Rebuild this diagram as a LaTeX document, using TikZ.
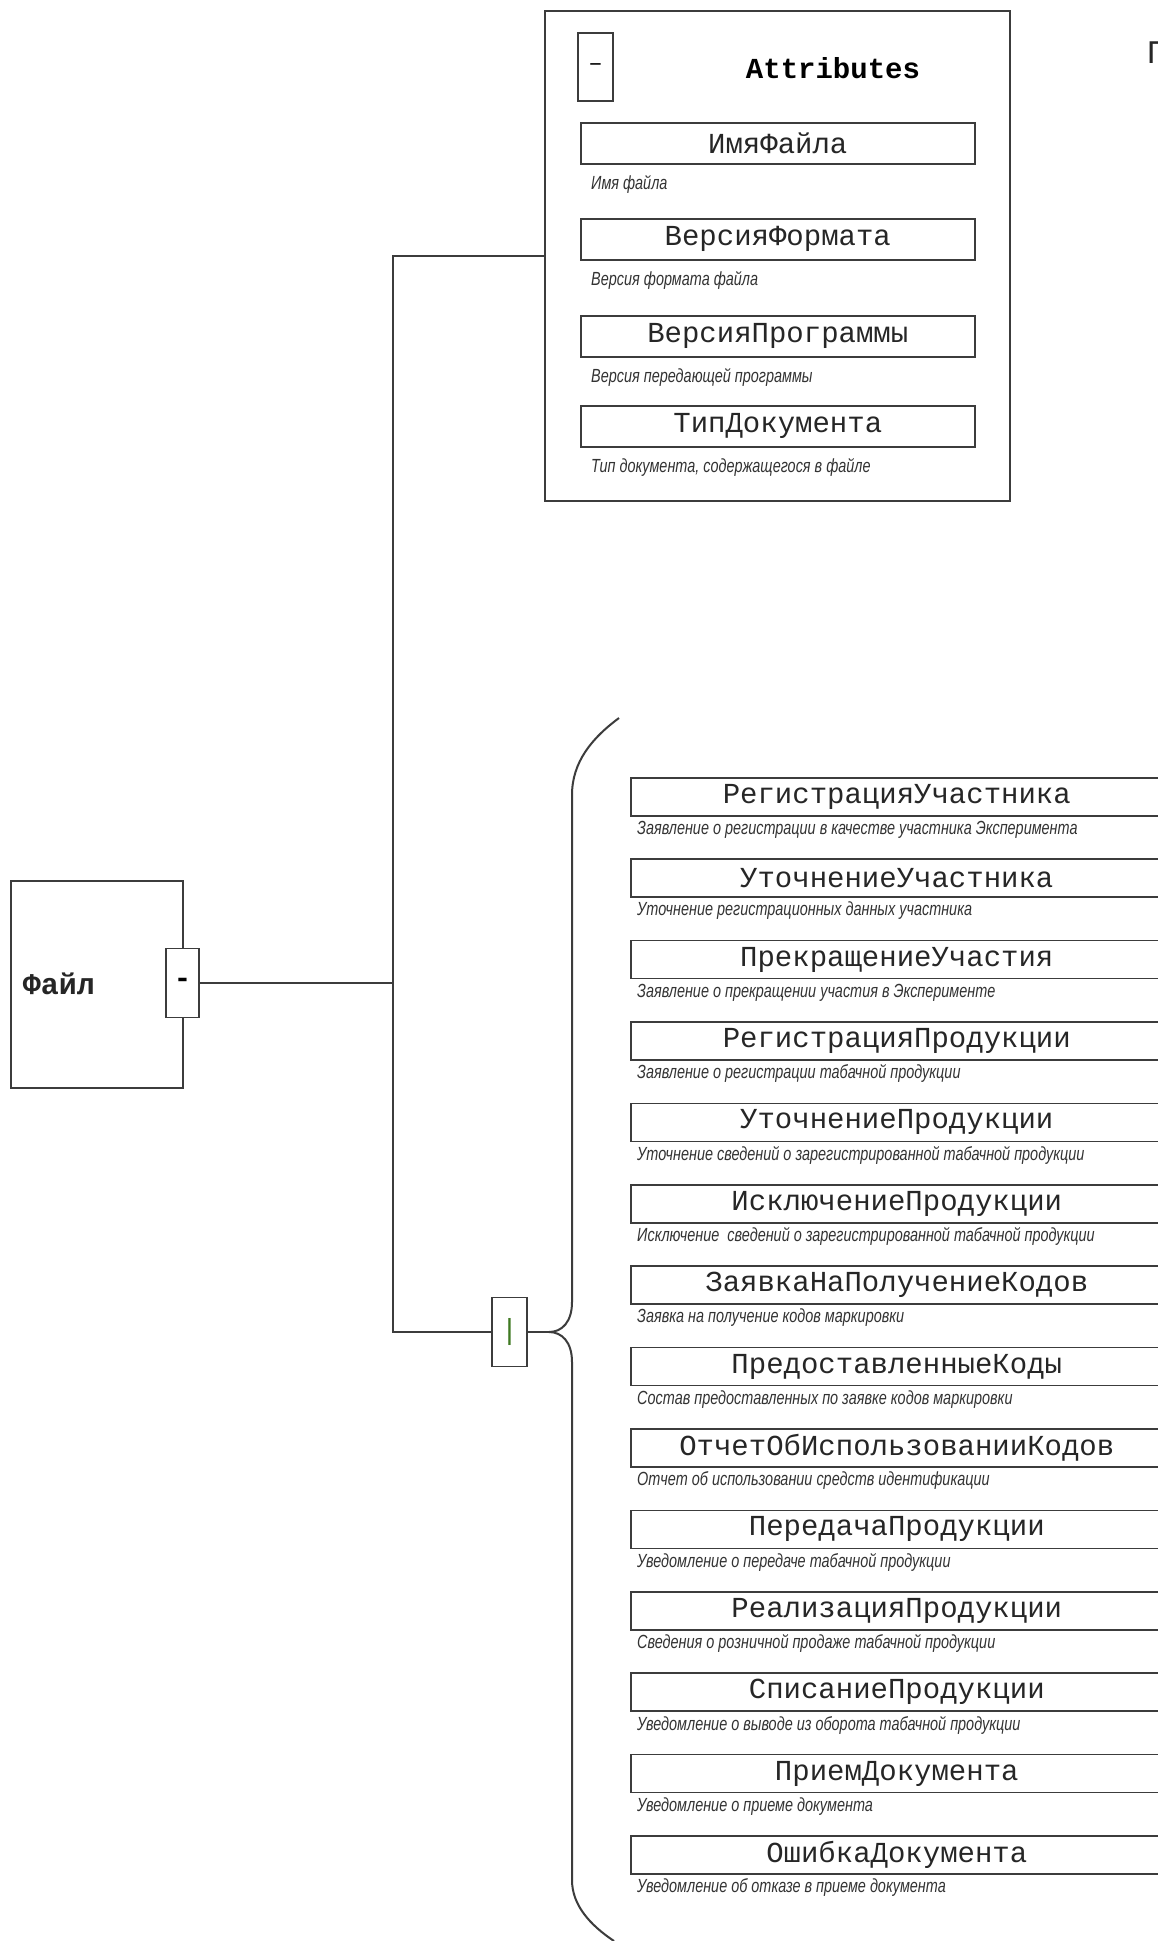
\documentclass[tikz,border=0pt]{standalone}
\usepackage{fontspec}
\setmainfont{Liberation Serif}
\newfontfamily\namefont{Liberation Mono}
\newfontfamily\descfont[FakeStretch=0.76]{Liberation Sans}
\usetikzlibrary{positioning}
\definecolor{linegray}{HTML}{3C3C3C}
\definecolor{bargreen}{HTML}{3F7A22}
\tikzset{
  namebox/.style = {shape=rectangle, draw=linegray, line width=1.6pt,
                    inner sep=0pt, anchor=north west, text=black!85,
                    font=\namefont\fontsize{29}{29}\selectfont},
  desc/.style    = {anchor=west, inner sep=0pt, text=black!80,
                    font=\descfont\itshape\fontsize{19}{19}\selectfont},
  toggle/.style  = {shape=rectangle, draw=linegray, line width=1.6pt,
                    fill=white, inner sep=0pt,
                    font=\namefont\fontsize{29}{29}\selectfont},
  conn/.style    = {draw=linegray, line width=1.6pt}
}

\begin{document}
\begin{tikzpicture}
  [
    x = 1pt,
    y = -1pt
  ]
  \useasboundingbox[fill=white] (0,0) rectangle (1157,1941);

  % root element
  \node [namebox, minimum width=172pt, minimum height=207pt,
         text width=148pt, align=left, inner xsep=12pt,
         font=\namefont\bfseries\fontsize{30}{30}\selectfont] (file) at (10,880) {Файл};
  \node [toggle, minimum width=33pt, minimum height=69pt,
         font=\namefont\bfseries\fontsize{29}{29}\selectfont] (filetog) at (182.5,983) {-};
  \coordinate (trunk) at (393,983);

  % attributes group
  \node [namebox, minimum width=465pt, minimum height=490pt] (attrs) at (544,10) {};
  \node [toggle, minimum width=35pt, minimum height=68pt,
         font=\namefont\fontsize{24}{24}\selectfont] (attrtog) at (595.5,67) {–};
  \node [inner sep=0pt, font=\namefont\bfseries\fontsize{29}{29}\selectfont] (attrtitle) at (833,68) {Attributes};
  \foreach \nm/\dsc/\top [count=\i] in {
      ИмяФайла/Имя файла/122,
      ВерсияФормата/Версия формата файла/218,
      ВерсияПрограммы/Версия передающей программы/315,
      ТипДокумента/{Тип документа, содержащегося в файле}/405}
  {
    \node [namebox, minimum width=394pt, minimum height=41pt] (attr\i) at (580,\top) {\nm};
    \node [desc] (attrdesc\i) at ([xshift=11pt,yshift=-20pt]attr\i.south west) {\dsc};
  }

  % choice of documents
  \node [toggle, minimum width=35pt, minimum height=69pt, text=bargreen] (choice) at (509.5,1332) {|};
  \coordinate (tip) at (549,1332);
  \draw [conn, line width=2pt] (619,718) .. controls (592,738) and (572,762) .. (572,795)
        -- (572,1302) .. controls (572,1322) and (562,1332) .. (tip)
        .. controls (562,1332) and (572,1342) .. (572,1362)
        -- (572,1880) .. controls (572,1905) and (590,1925) .. (614,1941);

  \foreach \nm/\dsc [count=\i from 0] in {
      РегистрацияУчастника/Заявление о регистрации в качестве участника Эксперимента,
      УточнениеУчастника/Уточнение регистрационных данных участника,
      ПрекращениеУчастия/Заявление о прекращении участия в Эксперименте,
      РегистрацияПродукции/Заявление о регистрации табачной продукции,
      УточнениеПродукции/Уточнение сведений о зарегистрированной табачной продукции,
      ИсключениеПродукции/Исключение\ \ сведений о зарегистрированной табачной продукции,
      ЗаявкаНаПолучениеКодов/Заявка на получение кодов маркировки,
      ПредоставленныеКоды/Состав предоставленных по заявке кодов маркировки,
      ОтчетОбИспользованииКодов/Отчет об использовании средств идентификации,
      ПередачаПродукции/Уведомление о передаче табачной продукции,
      РеализацияПродукции/Сведения о розничной продаже табачной продукции,
      СписаниеПродукции/Уведомление о выводе из оборота табачной продукции,
      ПриемДокумента/Уведомление о приеме документа,
      ОшибкаДокумента/Уведомление об отказе в приеме документа}
  {
    \node [namebox, minimum width=532pt, minimum height=38pt] (item\i) at (630,{777+81.4*\i}) {\nm};
    \node [desc] (itemdesc\i) at ([xshift=7pt,yshift=-13pt]item\i.south west) {\dsc};
  }

  % connectors
  \draw [conn] (filetog.east) -- (trunk);
  \draw [conn] (attrs.west) -| (trunk) |- (choice.west);
  \draw [conn] (choice.east) -- (tip);

  % clipped text at the right edge
  \node [anchor=base west, inner sep=0pt, text=black!85,
         font=\namefont\fontsize{33}{33}\selectfont] (cut) at (1147,63) {П};
\end{tikzpicture}
\end{document}
